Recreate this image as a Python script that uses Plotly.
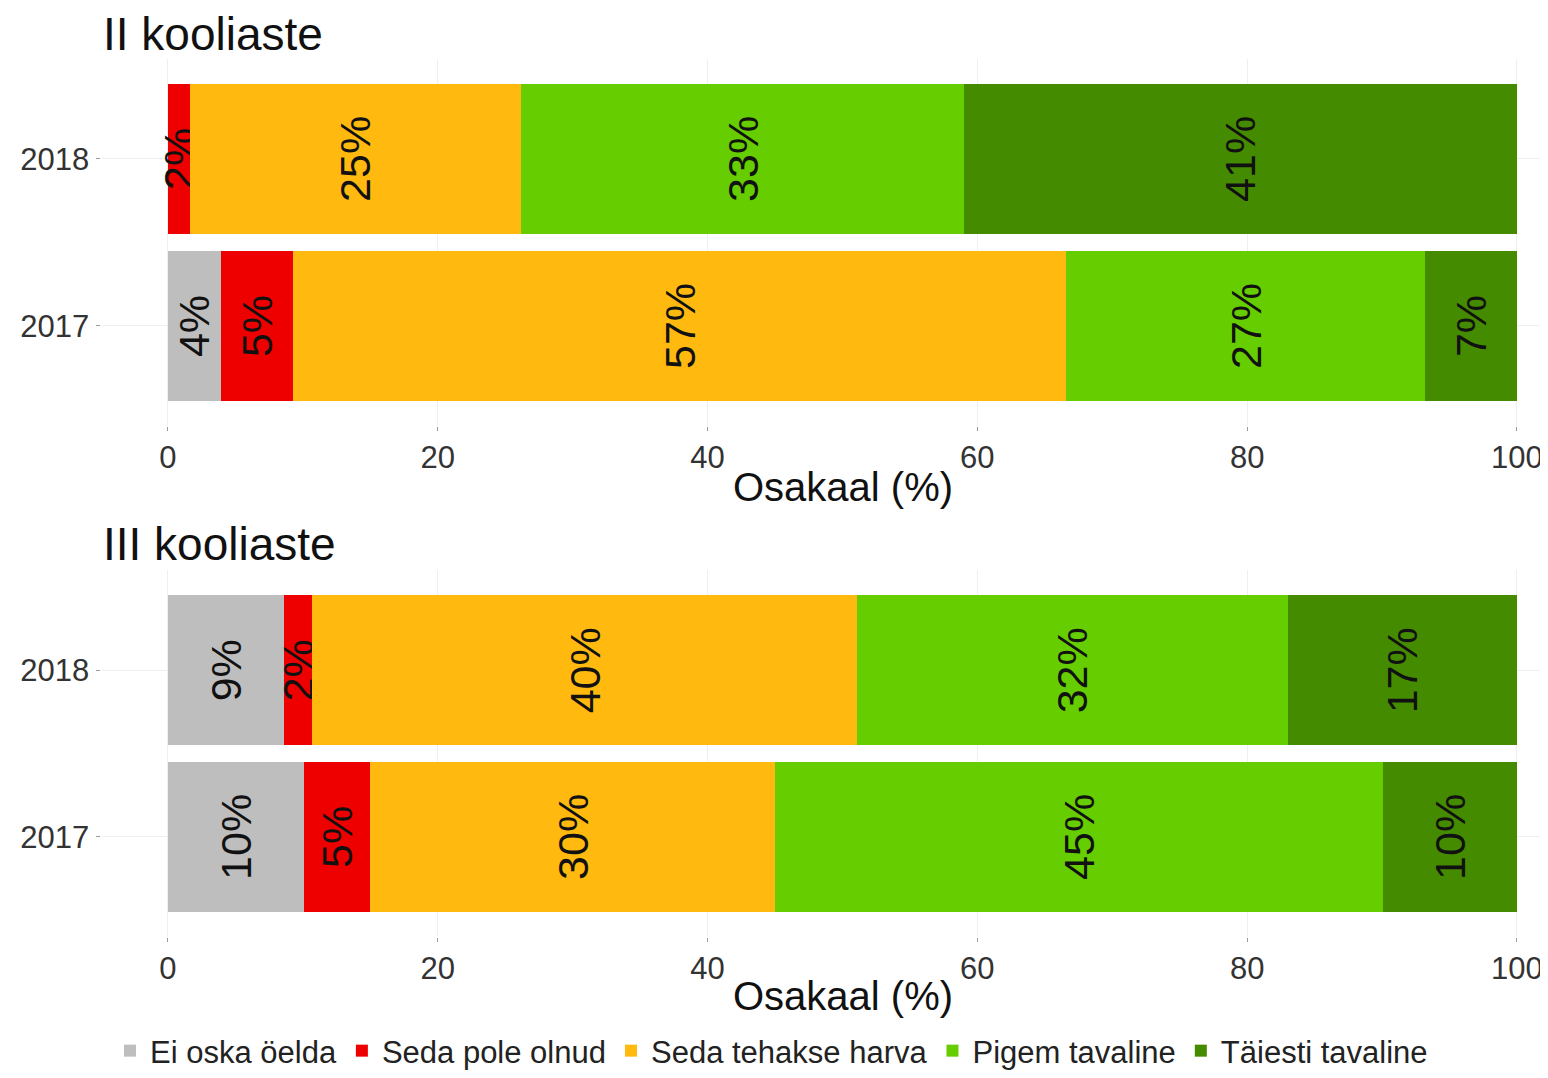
import plotly.graph_objects as go

years = ["2017", "2018"]
categories = ["Ei oska öelda", "Seda pole olnud", "Seda tehakse harva", "Pigem tavaline", "Täiesti tavaline"]
colors = ["#BEBEBE", "#EE0000", "#FFB90F", "#66CD00", "#458B00"]

# II kooliaste: values per category for [2017, 2018]
ii_ei_oska = [3.9, 0.0]
ii_pole_olnud = [5.4, 1.6]
ii_harva = [57.3, 24.6]
ii_pigem = [26.6, 32.8]
ii_taiesti = [6.8, 41.0]

# III kooliaste: values per category for [2017, 2018]
iii_ei_oska = [10.1, 8.6]
iii_pole_olnud = [4.9, 2.1]
iii_harva = [30.0, 40.4]
iii_pigem = [45.1, 31.9]
iii_taiesti = [9.9, 17.0]

panel_ii = [ii_ei_oska, ii_pole_olnud, ii_harva, ii_pigem, ii_taiesti]
panel_iii = [iii_ei_oska, iii_pole_olnud, iii_harva, iii_pigem, iii_taiesti]

# page body has an 8px margin; figure is sized to fill the rest of the window
OFF = 8
W, H = 1548 - OFF, 1078 - OFF
FONT = "Liberation Sans, Arial, sans-serif"

def px_x(p):
    return (p - OFF) / W

def px_y(p):
    return 1 - (p - OFF) / H

fig = go.Figure()

def label(v):
    return f"{round(v)}%" if v > 0 else ""

for panel, (xa, ya), show in [(panel_ii, ("x", "y"), True), (panel_iii, ("x2", "y2"), False)]:
    for cat, col, vals in zip(categories, colors, panel):
        fig.add_trace(go.Bar(
            x=vals, y=years, orientation="h", name=cat,
            marker=dict(color=col, line=dict(width=0)),
            width=0.9,
            text=[label(v) for v in vals],
            textposition="inside", insidetextanchor="middle",
            textangle=-90, constraintext="none",
            textfont=dict(family=FONT, size=43, color="#111111"),
            xaxis=xa, yaxis=ya, showlegend=show, legendgroup=cat,
            hoverinfo="skip",
        ))

x_left_px = 100.5
px_per_unit = (1517 - 168) / 100.0
x_dom = [px_x(x_left_px), 1.0]
xrange = [-5, -5 + (1548 - x_left_px) / px_per_unit]
ticks = [0, 20, 40, 60, 80, 100]
axis_common_x = dict(
    range=xrange, domain=x_dom, tickvals=ticks, ticktext=[str(t) for t in ticks],
    showgrid=True, gridcolor="#EFEFEF", gridwidth=1.2, zeroline=False,
    ticks="outside", ticklen=4, tickcolor="#9a9a9a",
    tickfont=dict(family=FONT, size=31, color="#333333"),
    showline=False, automargin=False, fixedrange=True,
)
axis_common_y = dict(
    type="category", categoryorder="array", categoryarray=years,
    range=[-0.6, 1.6], showgrid=True, gridcolor="#EFEFEF", gridwidth=1.2,
    ticks="outside", ticklen=4, tickcolor="#9a9a9a",
    tickfont=dict(family=FONT, size=31, color="#333333"),
    showline=False, automargin=False, zeroline=False,
)

fig.update_layout(
    width=W, height=H,
    margin=dict(l=0, r=0, t=0, b=0),
    paper_bgcolor="white", plot_bgcolor="white",
    barmode="stack",
    uniformtext=dict(mode="show", minsize=43),
    xaxis=dict(**axis_common_x, anchor="y"),
    yaxis=dict(**axis_common_y, domain=[px_y(429), px_y(59)], anchor="x"),
    xaxis2=dict(**axis_common_x, anchor="y2"),
    yaxis2=dict(**axis_common_y, domain=[px_y(943), px_y(574)], anchor="x2"),
    legend=dict(
        orientation="h", x=px_x(110), xanchor="left", y=px_y(1058), yanchor="middle",
        font=dict(family=FONT, size=31, color="#222222"),
        traceorder="normal", itemclick=False, itemdoubleclick=False,
        bgcolor="rgba(0,0,0,0)", tracegroupgap=0,
    ),
    font=dict(family=FONT),
    annotations=[
        dict(text="II kooliaste", x=px_x(101), y=px_y(34), xref="paper", yref="paper",
             xanchor="left", yanchor="middle", showarrow=False,
             font=dict(family=FONT, size=46, color="#111111")),
        dict(text="III kooliaste", x=px_x(101), y=px_y(548), xref="paper", yref="paper",
             xanchor="left", yanchor="middle", showarrow=False,
             font=dict(family=FONT, size=46, color="#111111")),
        dict(text="Osakaal (%)", x=px_x(843), y=px_y(490), xref="paper", yref="paper",
             xanchor="center", yanchor="middle", showarrow=False,
             font=dict(family=FONT, size=40, color="#111111")),
        dict(text="Osakaal (%)", x=px_x(843), y=px_y(1003), xref="paper", yref="paper",
             xanchor="center", yanchor="middle", showarrow=False,
             font=dict(family=FONT, size=40, color="#111111")),
    ],
)

fig.write_html("out.html")
